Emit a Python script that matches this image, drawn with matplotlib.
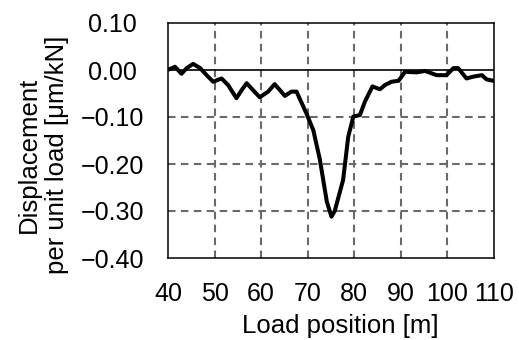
import numpy as np
import matplotlib
matplotlib.use("Agg")
import matplotlib.pyplot as plt

plt.rcParams['font.family'] = ['Liberation Sans', 'DejaVu Sans']

# load position [m] and displacement per unit load [um/kN]
load_pos = [40.4, 41.5, 42.9, 44.0, 45.4, 46.9, 48.3, 49.7, 51.5, 52.9, 54.7, 55.8,
            56.9, 57.9, 59.7, 61.5, 62.9, 65.1, 66.5, 67.6, 69.7, 71.2, 72.6, 74.1,
            75.1, 75.8, 77.6, 78.7, 79.8, 81.2, 82.3, 83.9, 85.5, 86.6, 88.0, 89.5,
            90.9, 93.4, 95.2, 97.7, 99.8, 101.3, 102.3, 104.1, 105.6, 107.4, 108.4, 109.9]
displacement = [0.002, 0.007, -0.008, 0.004, 0.013, 0.004, -0.011, -0.025, -0.018, -0.032,
                -0.060, -0.043, -0.028, -0.039, -0.058, -0.046, -0.030, -0.055, -0.046, -0.046,
                -0.092, -0.128, -0.190, -0.280, -0.312, -0.300, -0.234, -0.142, -0.099, -0.096,
                -0.067, -0.035, -0.041, -0.032, -0.025, -0.023, -0.004, -0.005, -0.002, -0.011,
                -0.011, 0.004, 0.004, -0.018, -0.014, -0.011, -0.020, -0.023]

x_ticks = [40, 50, 60, 70, 80, 90, 100, 110]
y_ticks = [0.10, 0.00, -0.10, -0.20, -0.30, -0.40]

fig = plt.figure(figsize=(5.19, 3.40), dpi=100)
ax = fig.add_axes([168 / 519, 1 - 258 / 340, 326 / 519, 235 / 340])

# dashed grid, zero line drawn solid
grid_style = dict(color='#6a6a6a', lw=1.5, ls=(0, (3.6, 2.6)), zorder=1)
for xv in x_ticks[1:-1]:
    ax.axvline(xv, **grid_style)
for yv in y_ticks:
    if yv not in (0.10, 0.00, -0.40):
        ax.axhline(yv, **grid_style)
ax.axhline(0.0, color='black', lw=1.2, zorder=2)

ax.plot(load_pos, displacement, color='black', lw=2.9, zorder=3)

ax.set_xlim(40, 110)
ax.set_ylim(-0.40, 0.10)
ax.set_xticks(x_ticks)
ax.set_yticks(y_ticks)
ax.set_yticklabels([f"{v:.2f}".replace('-', '\u2212') for v in y_ticks])
ax.tick_params(axis='both', length=0, labelsize=18)
ax.tick_params(axis='y', pad=40)
ax.tick_params(axis='x', pad=17)
for lab in ax.get_yticklabels():
    lab.set_horizontalalignment('center')

for sp in ax.spines.values():
    sp.set_linewidth(1.1)

ax.set_xlabel("Load position [m]", fontsize=18.5)
ax.xaxis.set_label_coords(0.528, -0.24)
ax.set_ylabel("Displacement\nper unit load [\u03bcm/kN]", fontsize=18.5, linespacing=1.2)
ax.yaxis.set_label_coords(-0.304, 0.438)

fig.savefig("out.png", dpi=100)
